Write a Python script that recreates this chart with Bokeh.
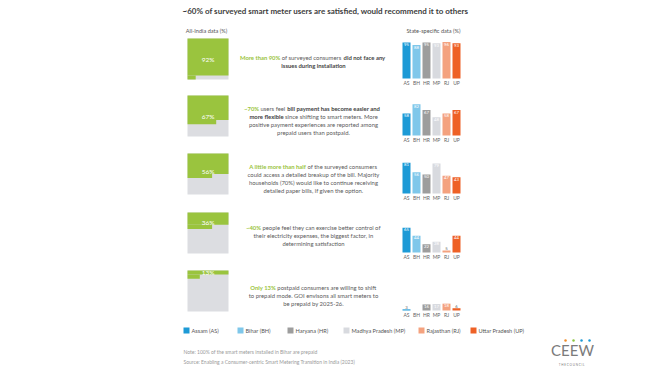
from bokeh.plotting import figure
from bokeh.models import Range1d
from bokeh.core.properties import value
from bokeh.embed import file_html
from bokeh.resources import INLINE

# ---------------- data ----------------
states = ["AS", "BH", "HR", "MP", "RJ", "UP"]
state_names = ["Assam (AS)", "Bihar (BH)", "Haryana (HR)", "Madhya Pradesh (MP)",
               "Rajasthan (RJ)", "Uttar Pradesh (UP)"]
state_colors = ["#1d9ad6", "#7fc7ea", "#9d9d9d", "#d8dadf", "#f4a27f", "#ee6126"]

all_india = [92, 67, 56, 36, 13]
install_ok = [95, 88, 95, 93, 96, 93]
bill_flexible = [58, 82, 67, 48, 58, 67]
bill_breakup = [81, 56, 50, 79, 47, 43]
better_control = [65, 44, 22, 28, 5, 44]
willing_prepaid = [3, 0, 16, 17, 18, 6]
state_rows = [install_ok, bill_flexible, bill_breakup, better_control, willing_prepaid]

GREEN = "#9ac43e"
WAFFLE_BG = "#dcdde1"

texts = [
    [[("More than 90%", "g"), (" of surveyed consumers ", "n"), ("did not face any", "b")],
     [("issues during installation", "b")]],
    [[("~70%", "g"), (" users feel ", "n"), ("bill payment has become easier and", "b")],
     [("more flexible", "b"), (" since shifting to smart meters. More", "n")],
     [("positive payment experiences are reported among", "n")],
     [("prepaid users than postpaid.", "n")]],
    [[("A little more than half", "g"), (" of the surveyed consumers", "n")],
     [("could access a detailed breakup of the bill. Majority", "n")],
     [("households (70%) would like to continue receiving", "n")],
     [("detailed paper bills, if given the option.", "n")]],
    [[("~40%", "g"), (" people feel they can exercise better control of", "n")],
     [("their electricity expenses, the biggest factor, in", "n")],
     [("determining satisfaction", "n")]],
    [[("Only 13%", "g"), (" postpaid consumers are willing to shift", "n")],
     [("to prepaid mode. GOI envisons all smart meters to", "n")],
     [("be prepaid by 2025-26.", "n")]],
]

title = "~60% of surveyed smart meter users are satisfied, would recommend it to others"
note = "Note: 100% of the smart meters installed in Bihar are prepaid"
source = "Source: Enabling a Consumer-centric Smart Metering Transition in India (2023)"

# ---------------- layout ----------------
W, H = 650, 369
FONT = "Lato"
p = figure(width=W, height=H, output_backend="svg", toolbar_location=None,
           x_range=Range1d(0, W), y_range=Range1d(H, 0),
           min_border=0, background_fill_color="white", border_fill_color="white")
p.axis.visible = False
p.grid.visible = False
p.outline_line_color = None


def xr(px0, c):
    s = (0 - px0) / c
    return Range1d(s, s + W / c)


def yr(px0, c):
    s = (H - px0) / c
    return Range1d(s, s - H / c)


# text width estimate (Helvetica metrics scaled)
REG = {' ': 278, '!': 278, '%': 889, '(': 333, ')': 333, ',': 278, '-': 333, '.': 278,
       '~': 584, ':': 278}
BOLD = {' ': 278, '!': 333, '%': 889, '(': 333, ')': 333, ',': 278, '-': 333, '.': 278,
        '~': 584, ':': 333}
low_r = dict(zip("abcdefghijklmnopqrstuvwxyz",
                 [556, 556, 500, 556, 556, 278, 556, 556, 222, 222, 500, 222, 833, 556, 556, 556, 556,
                  333, 500, 278, 556, 500, 722, 500, 500, 500]))
low_b = dict(zip("abcdefghijklmnopqrstuvwxyz",
                 [556, 611, 556, 611, 556, 333, 611, 611, 278, 278, 556, 278, 889, 611, 611, 611, 611,
                  389, 556, 333, 611, 556, 778, 556, 556, 500]))
up_r = dict(zip("ABCDEFGHIJKLMNOPQRSTUVWXYZ",
                [667, 667, 722, 722, 667, 611, 778, 722, 278, 500, 667, 556, 833, 722, 778, 667, 778,
                 722, 667, 611, 722, 667, 944, 667, 667, 611]))
up_b = dict(zip("ABCDEFGHIJKLMNOPQRSTUVWXYZ",
                [722, 722, 722, 722, 667, 611, 778, 722, 278, 556, 722, 611, 833, 722, 778, 667, 778,
                 722, 667, 611, 722, 667, 944, 667, 667, 611]))
REG.update(low_r); REG.update(up_r)
BOLD.update(low_b); BOLD.update(up_b)
for d in "0123456789":
    REG[d] = 556
    BOLD[d] = 556
F_REG, F_BOLD = 0.99, 0.94


def tw(s, size, bold):
    t = BOLD if bold else REG
    return sum(t.get(ch, 556) for ch in s) / 1000.0 * size * (F_BOLD if bold else F_REG)


def txt(x, y, s, size, color, style="normal", align="left", baseline="middle"):
    p.text(x=[x], y=[y], text=[s], text_font=value(FONT), text_font_size=f"{size}px",
           text_color=color, text_font_style=style, text_align=align, text_baseline=baseline)


# title and headers
txt(325, 10, title, 8.0, "#3d3d3d", "bold", "center")
txt(206, 30, "All-India data (%)", 5.6, "#555555", "normal", "center")
txt(433, 30, "State-specific data (%)", 5.6, "#555555", "normal", "center")

WAFFLE_X0, CELL = 187, 4.1
row_tops = [38, 95, 153, 212, 270]
text_first = [57, 108, 166, 227, 287]
BAR_X0, BAR_PITCH, BAR_K = 406, 10, 0.38
TEXT_CX, TEXT_SIZE, LINE_H = 313, 5.9, 8
SPACE = 1.4

p.extra_x_ranges = {"waffle": xr(WAFFLE_X0, CELL), "states": xr(BAR_X0, BAR_PITCH)}
yranges = {}
for i, top in enumerate(row_tops):
    yranges[f"w{i}"] = yr(top, CELL)
    yranges[f"b{i}"] = yr(top + 40, -BAR_K)
p.extra_y_ranges = yranges

color_map = {"g": GREEN, "n": "#5a5a5a", "b": "#444444"}
style_map = {"g": "bold", "n": "normal", "b": "bold"}

for i, v in enumerate(all_india):
    wy = f"w{i}"
    full, rem = v // 10, v % 10
    p.quad(left=[0], right=[10], top=[0], bottom=[10], fill_color=WAFFLE_BG, line_color=None,
           x_range_name="waffle", y_range_name=wy)
    p.quad(left=[0], right=[10], top=[0], bottom=[full], fill_color=GREEN, line_color=None,
           x_range_name="waffle", y_range_name=wy)
    if rem:
        p.quad(left=[0], right=[rem], top=[full], bottom=[full + 1], fill_color=GREEN,
               line_color=None, x_range_name="waffle", y_range_name=wy)
    ly = max(0.55, min(5.0, v / 10 - 1.1))
    p.text(x=[5], y=[ly], text=[f"{v}%"], text_font=value(FONT), text_font_size="6.5px",
           text_color="white", text_align="center", text_baseline="middle",
           x_range_name="waffle", y_range_name=wy)

    # state bars
    by = f"b{i}"
    vals = state_rows[i]
    idx = list(range(len(states)))
    p.vbar(x=idx, top=vals, bottom=0, width=0.8, fill_color=state_colors, line_color=None,
           x_range_name="states", y_range_name=by)
    for j, sv in enumerate(vals):
        if sv == 0:
            continue
        if sv >= 10:
            p.text(x=[j], y=[sv - 1.5], text=[str(sv)], text_font=value(FONT), text_font_size="4.3px",
                   text_color="white", text_align="center", text_baseline="top",
                   x_range_name="states", y_range_name=by)
        else:
            p.text(x=[j], y=[sv + 1.5], text=[str(sv)], text_font=value(FONT), text_font_size="4.3px",
                   text_color="#666666", text_align="center", text_baseline="bottom",
                   x_range_name="states", y_range_name=by)
    p.text(x=idx, y=[-4] * len(idx), text=states, text_font=value(FONT), text_font_size="5px",
           text_color="#666666", text_align="center", text_baseline="top",
           x_range_name="states", y_range_name=by)

    # descriptive text: first piece right-aligned at the first join, the rest left-aligned
    for li, segs in enumerate(texts[i]):
        y = text_first[i] + li * LINE_H
        pieces = [(s.strip(" "), st) for s, st in segs]
        widths = [tw(s, TEXT_SIZE, st != "n") for s, st in pieces]
        total = sum(widths) + SPACE * (len(pieces) - 1)
        x = TEXT_CX - total / 2
        if len(pieces) == 1:
            s, st = pieces[0]
            txt(TEXT_CX, y, s, TEXT_SIZE, color_map[st], style_map[st], "center")
            continue
        join = x + widths[0]
        s, st = pieces[0]
        txt(join, y, s, TEXT_SIZE, color_map[st], style_map[st], "right")
        x = join + SPACE
        for k in range(1, len(pieces)):
            s, st = pieces[k]
            txt(x, y, s, TEXT_SIZE, color_map[st], style_map[st], "left")
            x += widths[k] + SPACE

# legend
leg_x = [183, 237, 287, 343, 418, 470]
for j, name in enumerate(state_names):
    p.quad(left=[leg_x[j]], right=[leg_x[j] + 6], top=[327], bottom=[333],
           fill_color=state_colors[j], line_color=None)
    txt(leg_x[j] + 8, 330, name, 5.6, "#555555")

txt(183, 351, note, 5, "#9a9a9a")
txt(183, 361, source, 5, "#9a9a9a")

# logo
txt(572, 349, "CEEW", 15, "#7b7b7b", "normal", "center")
p.scatter(x=[565, 573, 581, 589], y=[340, 340, 340, 340], size=2.5,
          color=["#f28c28", "#8dc63f", "#1d9ad6", "#1d9ad6"], line_color=None)
txt(572, 364, "T H E   C O U N C I L", 3, "#7b7b7b", "normal", "center")

open("out.html", "w").write(file_html(p, INLINE))
